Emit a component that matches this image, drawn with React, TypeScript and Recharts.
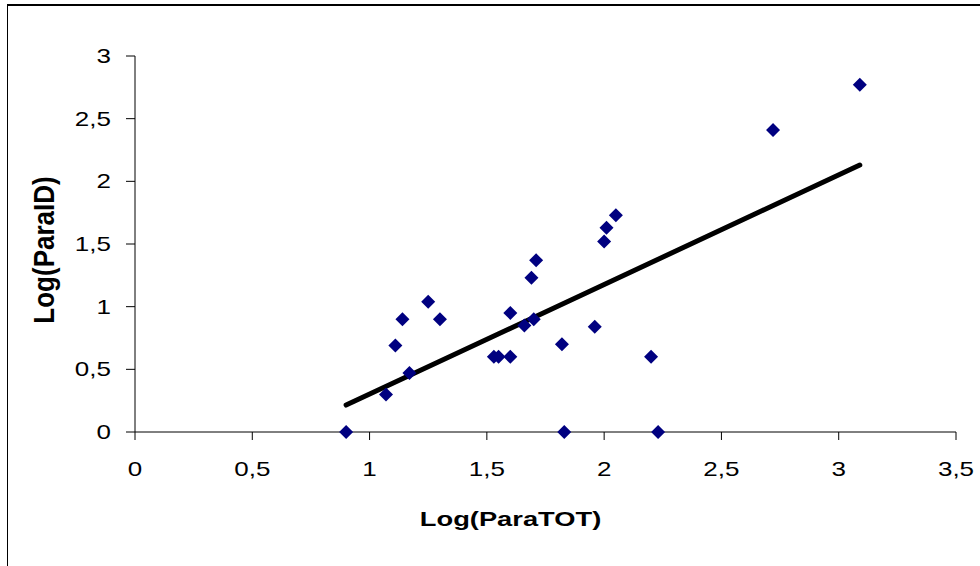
import React from "react";
import {
  ScatterChart,
  Scatter,
  XAxis,
  YAxis,
  ReferenceLine,
  Label,
} from "recharts";

// Log(ParaTOT) vs Log(ParaID)
const PARA_TOT = [
  0.9, 1.07, 1.11, 1.14, 1.17, 1.25, 1.3, 1.53, 1.55, 1.6, 1.6, 1.66, 1.69,
  1.7, 1.71, 1.82, 1.83, 1.96, 2.0, 2.01, 2.05, 2.2, 2.23, 2.72, 3.09,
];
const PARA_ID = [
  0, 0.3, 0.69, 0.9, 0.47, 1.04, 0.9, 0.6, 0.6, 0.95, 0.6, 0.85, 1.23, 0.9,
  1.37, 0.7, 0, 0.84, 1.52, 1.63, 1.73, 0.6, 0, 2.41, 2.77,
];
// trend line end points
const TREND_X = [0.9, 3.09];
const TREND_Y = [0.215, 2.13];

const X_TICKS = [0, 0.5, 1, 1.5, 2, 2.5, 3, 3.5];
const Y_TICKS = [0, 0.5, 1, 1.5, 2, 2.5, 3];

const points = PARA_TOT.map((x, i) => ({ x, y: PARA_ID[i] }));

const fmt = (v: number) => String(v).replace(".", ",");

const FONT = "'Liberation Sans', Arial, sans-serif";
// the reference text is a bit wider than plain Arial
const STRETCH = 1.3;

const Diamond = (props: any) => {
  const { cx, cy } = props;
  const r = 7;
  return (
    <polygon
      points={`${cx},${cy - r} ${cx + r},${cy} ${cx},${cy + r} ${cx - r},${cy}`}
      fill='#000080'
    />
  );
};

const XTick = (props: any) => {
  const { x, y, payload } = props;
  return (
    <g transform={`translate(${x},${y}) scale(${STRETCH},1)`}>
      <text
        x={0}
        y={0}
        dy='0.71em'
        textAnchor='middle'
        fontFamily={FONT}
        fontSize={20}
        fill='#000'
      >
        {fmt(payload.value)}
      </text>
    </g>
  );
};

const YTick = (props: any) => {
  const { x, y, payload } = props;
  return (
    <g transform={`translate(${x},${y}) scale(${STRETCH},1)`}>
      <text
        x={0}
        y={0}
        dy='0.355em'
        textAnchor='end'
        fontFamily={FONT}
        fontSize={20}
        fill='#000'
      >
        {fmt(payload.value)}
      </text>
    </g>
  );
};

const XTitle = (props: any) => {
  const { x, y, width } = props.viewBox;
  const cx = x + width / 2 - 35;
  const cy = y + 87;
  return (
    <g transform={`translate(${cx},${cy}) scale(${STRETCH},1)`}>
      <text
        x={0}
        y={0}
        textAnchor='middle'
        dominantBaseline='central'
        fontFamily={FONT}
        fontWeight='bold'
        fontSize={21}
        fill='#000'
      >
        Log(ParaTOT)
      </text>
    </g>
  );
};

const YTitle = (props: any) => {
  const { x, y } = props.viewBox;
  const cx = x + 35;
  const cy = y + 194;
  return (
    <g transform={`translate(${cx},${cy}) scale(1.15,1) rotate(-90)`}>
      <text
        x={0}
        y={0}
        textAnchor='middle'
        dominantBaseline='central'
        fontFamily={FONT}
        fontWeight='bold'
        fontSize={26}
        fill='#000'
      >
        Log(ParaID)
      </text>
    </g>
  );
};

export default function App() {
  return (
    <div
      style={{
        width: 980,
        height: 566,
        boxSizing: "border-box",
        paddingTop: 4,
        paddingLeft: 7,
        overflow: "hidden",
        background: "#fff",
      }}
    >
      <style>{"body{margin:0}"}</style>
      <div
        style={{
          width: 973,
          height: 562,
          boxSizing: "border-box",
          borderTop: "2px solid #000",
          borderLeft: "1px solid #000",
          paddingLeft: 1,
        }}
      >
        <ScatterChart
          width={971}
          height={552}
          margin={{ top: 50, right: 24, bottom: 0, left: 0 }}
        >
          <XAxis
            type='number'
            dataKey='x'
            domain={[0, 3.5]}
            ticks={X_TICKS}
            height={126}
            tickSize={8}
            tickMargin={22}
            axisLine={{ stroke: "#000" }}
            tickLine={{ stroke: "#000" }}
            tick={<XTick />}
          >
            <Label content={<XTitle />} />
          </XAxis>
          <YAxis
            type='number'
            dataKey='y'
            domain={[0, 3]}
            ticks={Y_TICKS}
            width={126}
            tickSize={9}
            tickMargin={15}
            axisLine={{ stroke: "#000" }}
            tickLine={{ stroke: "#000" }}
            tick={<YTick />}
          >
            <Label content={<YTitle />} />
          </YAxis>
          <ReferenceLine
            segment={[
              { x: TREND_X[0], y: TREND_Y[0] },
              { x: TREND_X[1], y: TREND_Y[1] },
            ]}
            stroke='#000'
            strokeWidth={5}
            strokeLinecap='round'
            ifOverflow='visible'
          />
          <Scatter
            data={points}
            shape={<Diamond />}
            isAnimationActive={false}
          />
        </ScatterChart>
      </div>
    </div>
  );
}
